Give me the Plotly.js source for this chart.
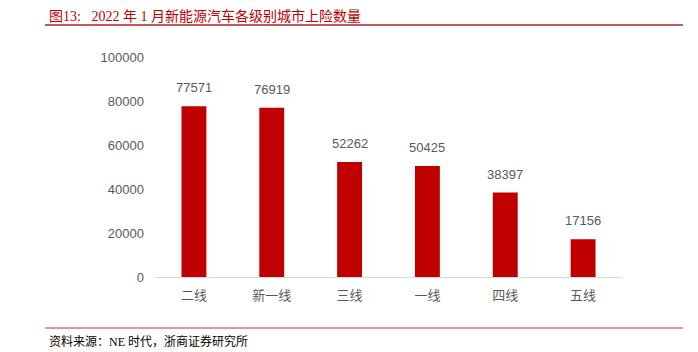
<!DOCTYPE html>
<html>
<head>
<meta charset="utf-8">
<script src="https://cdn.plot.ly/plotly-3.0.1.min.js"></script>
<style>html,body{margin:0;padding:0;background:#fff;}#chart{width:698px;height:352px;}</style>
</head>
<body>
<div id="chart"></div>
<script>
const categories = ["二线", "新一线", "三线", "一线", "四线", "五线"];
const values = [77571, 76919, 52262, 50425, 38397, 17156];
const yTicks = [0, 20000, 40000, 60000, 80000, 100000];
const titleText = "图13:&nbsp;&nbsp;&nbsp;2022 年 1 月新能源汽车各级别城市上险数量";
const sourceText = "资料来源：NE 时代，浙商证券研究所";

const serif = '"Liberation Serif", "Times New Roman", "Noto Sans CJK SC", serif';
const sans = 'Arial, "Liberation Sans", "Noto Sans CJK SC", sans-serif';

const trace = {
  type: 'bar',
  x: categories,
  y: values,
  width: 0.32,
  marker: {color: '#C00000'},
  hoverinfo: 'none'
};

const labelAnns = categories.map((c, i) => ({
  x: c, y: values[i], xref: 'x', yref: 'y',
  text: String(values[i]), showarrow: false,
  yanchor: 'bottom', yshift: 9,
  font: {family: sans, size: 13, color: '#595959'}
}));

const layout = {
  width: 698, height: 352,
  margin: {l: 155, r: 76, t: 57, b: 75},
  paper_bgcolor: '#fff', plot_bgcolor: '#fff',
  showlegend: false,
  bargap: 0.68,
  xaxis: {
    type: 'category',
    showline: true, linecolor: '#D9D9D9', linewidth: 1,
    showgrid: false, ticks: '', zeroline: false,
    tickfont: {family: sans, size: 13, color: '#595959'},
    ticklabelstandoff: 6
  },
  yaxis: {
    range: [0, 100000],
    tickvals: yTicks,
    ticktext: yTicks.map(String),
    showgrid: false, zeroline: false, showline: false, ticks: '',
    tickfont: {family: sans, size: 13, color: '#595959'},
    ticklabelstandoff: 10
  },
  shapes: [
    {type: 'line', xref: 'paper', yref: 'paper', x0: -0.2355, x1: 1.1306, y0: 1.1455, y1: 1.1455,
     line: {color: '#B22222', width: 1.5}},
    {type: 'line', xref: 'paper', yref: 'paper', x0: -0.2355, x1: 1.1306, y0: -0.2318, y1: -0.2318,
     line: {color: '#E07070', width: 1.5}}
  ],
  annotations: labelAnns.concat([
    {xref: 'paper', yref: 'paper', x: -0.2313, y: 1.186, xanchor: 'left', yanchor: 'middle',
     text: titleText, showarrow: false, font: {family: serif, size: 14, color: '#C00000'}},
    {xref: 'paper', yref: 'paper', x: -0.2313, y: -0.295, xanchor: 'left', yanchor: 'middle',
     text: sourceText, showarrow: false, font: {family: serif, size: 12, color: '#000'}}
  ])
};

Plotly.newPlot('chart', [trace], layout, {displayModeBar: false, staticPlot: true});
</script>
</body>
</html>
